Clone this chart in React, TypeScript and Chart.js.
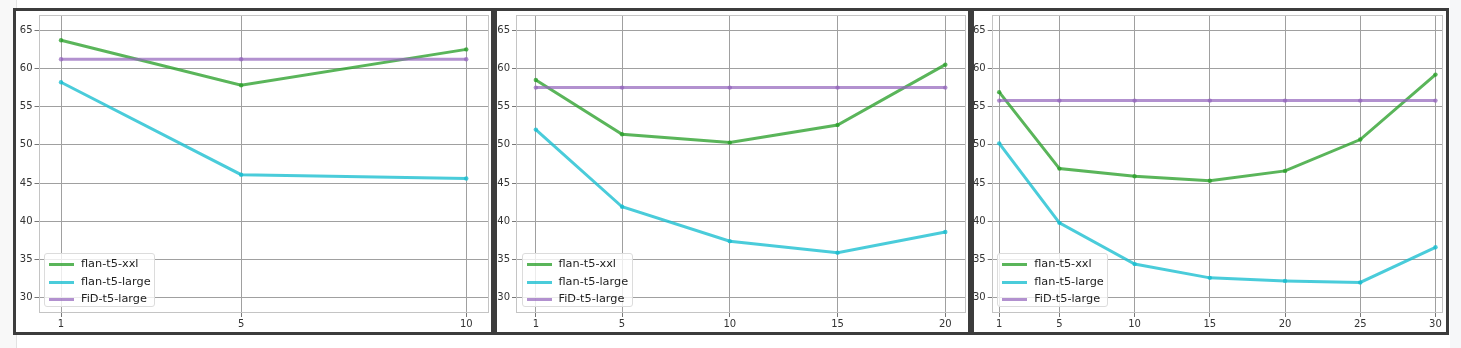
import React, { useEffect, useRef } from "react";
import { Chart, registerables } from "chart.js";

Chart.register(...registerables);

const FONT = "'DejaVu Sans', sans-serif";
const GREEN = "rgba(44,160,44,0.78)";
const CYAN = "rgba(23,190,207,0.78)";
const PURPLE = "rgba(148,103,189,0.72)";
const GRID = "#a0a0a0";
const FRAME = "#c4c4c4";

const seriesNames = ["flan-t5-xxl", "flan-t5-large", "FiD-t5-large"];
const yTicks = [30, 35, 40, 45, 50, 55, 60, 65];

const p1X = [1, 5, 10];
const p1Xxl = [63.7, 57.8, 62.5];
const p1Large = [58.2, 46.1, 45.6];
const p1Fid = [61.2, 61.2, 61.2];

const p2X = [1, 5, 10, 15, 20];
const p2Xxl = [58.5, 51.4, 50.3, 52.6, 60.5];
const p2Large = [52.0, 41.9, 37.4, 35.9, 38.6];
const p2Fid = [57.5, 57.5, 57.5, 57.5, 57.5];

const p3X = [1, 5, 10, 15, 20, 25, 30];
const p3Xxl = [56.9, 46.9, 45.9, 45.3, 46.6, 50.7, 59.2];
const p3Large = [50.2, 39.8, 34.4, 32.6, 32.2, 32.0, 36.6];
const p3Fid = [55.8, 55.8, 55.8, 55.8, 55.8, 55.8, 55.8];

type PanelCfg = {
  outerLeft: number;
  outerRight: number;
  canvasLeft: number;
  canvasWidth: number;
  yAxisWidth: number;
  padRight: number;
  xMin: number;
  xMax: number;
  x: number[];
  xxl: number[];
  large: number[];
  fid: number[];
};

const panels: PanelCfg[] = [
  { outerLeft: 13, outerRight: 494, canvasLeft: 16, canvasWidth: 475, yAxisWidth: 22.5, padRight: 2, xMin: 0.5, xMax: 10.5, x: p1X, xxl: p1Xxl, large: p1Large, fid: p1Fid },
  { outerLeft: 494, outerRight: 971, canvasLeft: 497, canvasWidth: 471, yAxisWidth: 19, padRight: 2, xMin: 0.08, xMax: 20.95, x: p2X, xxl: p2Xxl, large: p2Large, fid: p2Fid },
  { outerLeft: 971, outerRight: 1449, canvasLeft: 974, canvasWidth: 472, yAxisWidth: 17.7, padRight: 3, xMin: 0.5, xMax: 30.5, x: p3X, xxl: p3Xxl, large: p3Large, fid: p3Fid },
];

const TOP = 8;
const BOTTOM = 335;
const CANVAS_TOP = 11;
const CANVAS_H = 321;
const PLOT_TOP_PAD = 4;
const X_AXIS_H = 19;

function pts(xs: number[], ys: number[]) {
  return xs.map((x, i) => ({ x, y: ys[i] }));
}

const framePlugin = {
  id: "frame",
  beforeDatasetsDraw(chart: any) {
    const { ctx, chartArea } = chart;
    ctx.save();
    ctx.strokeStyle = FRAME;
    ctx.lineWidth = 1;
    ctx.strokeRect(
      Math.round(chartArea.left) + 0.5,
      Math.round(chartArea.top) + 0.5,
      Math.round(chartArea.right - chartArea.left) - 1,
      Math.round(chartArea.bottom - chartArea.top) - 1
    );
    ctx.restore();
  },
};

function Panel({ cfg }: { cfg: PanelCfg }) {
  const ref = useRef<HTMLCanvasElement | null>(null);
  useEffect(() => {
    if (!ref.current) return;
    const mk = (label: string, data: number[], color: string, order: number) => ({
      label,
      data: pts(cfg.x, data),
      borderColor: color,
      backgroundColor: color,
      borderWidth: 3,
      pointRadius: 2.2,
      pointBorderWidth: 0,
      pointHoverRadius: 2.2,
      tension: 0,
      order,
    });
    const chart = new Chart(ref.current, {
      type: "line",
      data: {
        datasets: [
          mk(seriesNames[0], cfg.xxl, GREEN, 2),
          mk(seriesNames[1], cfg.large, CYAN, 1),
          mk(seriesNames[2], cfg.fid, PURPLE, 0),
        ],
      },
      options: {
        animation: false,
        responsive: false,
        devicePixelRatio: 1,
        layout: { padding: { top: PLOT_TOP_PAD, right: cfg.padRight, left: 0, bottom: 0 } },
        plugins: { legend: { display: false }, tooltip: { enabled: false } },
        scales: {
          x: {
            type: "linear",
            min: cfg.xMin,
            max: cfg.xMax,
            afterBuildTicks: (s: any) => {
              s.ticks = cfg.x.filter((v) => v === 1 || v % 5 === 0).map((v) => ({ value: v }));
            },
            afterFit: (s: any) => {
              s.height = X_AXIS_H;
              s.paddingLeft = 0;
              s.paddingRight = 0;
              s.paddingTop = 0;
              s.paddingBottom = 0;
            },
            grid: { color: GRID, lineWidth: 1, drawTicks: true, tickLength: 4, tickColor: "#777" },
            border: { display: false },
            ticks: { font: { family: FONT, size: 10 }, color: "#333", padding: 1, maxRotation: 0, autoSkip: false },
          },
          y: {
            type: "linear",
            min: 28,
            max: 67,
            afterBuildTicks: (s: any) => {
              s.ticks = yTicks.map((v) => ({ value: v }));
            },
            afterFit: (s: any) => {
              s.width = cfg.yAxisWidth;
              s.paddingLeft = 0;
              s.paddingRight = 0;
              s.paddingTop = 0;
              s.paddingBottom = 0;
            },
            grid: { color: GRID, lineWidth: 1, drawTicks: true, tickLength: 4, tickColor: "#777" },
            border: { display: false },
            ticks: { font: { family: FONT, size: 10 }, color: "#333", padding: 2 },
          },
        },
      },
      plugins: [framePlugin],
    } as any);
    return () => chart.destroy();
  }, [cfg]);

  const plotLeft = cfg.canvasLeft + cfg.yAxisWidth;
  const legendLeft = plotLeft + 5.5;
  const colors = [GREEN, CYAN, PURPLE];
  return (
    <>
      <div
        style={{
          position: "absolute",
          left: cfg.outerLeft,
          top: TOP,
          width: cfg.outerRight - cfg.outerLeft,
          height: BOTTOM - TOP,
          boxSizing: "border-box",
          border: "3px solid #3c3c3c",
          background: "#fff",
        }}
      />
      <canvas
        ref={ref}
        width={cfg.canvasWidth}
        height={CANVAS_H}
        style={{ position: "absolute", left: cfg.canvasLeft, top: CANVAS_TOP, width: cfg.canvasWidth, height: CANVAS_H }}
      />
      <div
        style={{
          position: "absolute",
          left: legendLeft,
          top: 253,
          width: 111,
          height: 54,
          boxSizing: "border-box",
          border: "1px solid #dcdcdc",
          borderRadius: 3,
          background: "rgba(255,255,255,0.8)",
          fontFamily: FONT,
          fontSize: 11.3,
          color: "#222",
        }}
      >
        {seriesNames.map((n, i) => (
          <div key={n} style={{ position: "absolute", left: 0, top: 2 + i * 17.5, height: 17, width: "100%" }}>
            <span
              style={{
                position: "absolute",
                left: 4,
                top: 7,
                width: 25,
                height: 3,
                background: colors[i],
              }}
            />
            <span style={{ position: "absolute", left: 36, top: 1, lineHeight: "14px", whiteSpace: "nowrap" }}>{n}</span>
          </div>
        ))}
      </div>
    </>
  );
}

export default function App() {
  return (
    <div style={{ position: "absolute", left: 0, top: 0, width: 1461, height: 348, background: "#fff", overflow: "hidden" }}>
      <div style={{ position: "absolute", left: 0, top: 0, width: 16, height: 348, background: "#f8f8f8", borderRight: "1px solid #e2e2e2" }} />
      <div style={{ position: "absolute", left: 1450, top: 0, width: 11, height: 348, background: "#f6f7f9" }} />
      {panels.map((p, i) => (
        <Panel key={i} cfg={p} />
      ))}
    </div>
  );
}
